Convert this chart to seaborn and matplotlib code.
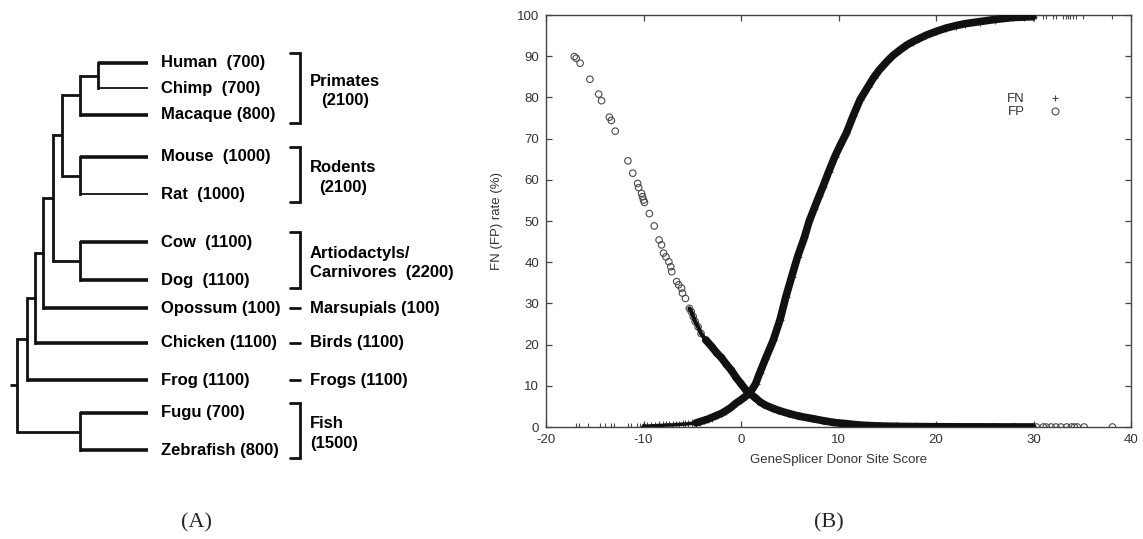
import numpy as np
import pandas as pd
import matplotlib
matplotlib.use("Agg")
import matplotlib.pyplot as plt
import seaborn as sns
from matplotlib.lines import Line2D

# ---------------- data : panel A (species tree) ----------------
species = ["Human", "Chimp", "Macaque", "Mouse", "Rat", "Cow", "Dog",
           "Opossum", "Chicken", "Frog", "Fugu", "Zebrafish"]
species_counts = [700, 700, 800, 1000, 1000, 1100, 1100, 100, 1100, 1100, 700, 800]
species_sep = ["  ", "  ", " ", "  ", "  ", "  ", "  ", " ", " ", " ", " ", " "]
group_labels = ["Primates\n(2100)", "Rodents\n(2100)", "Artiodactyls/\nCarnivores  (2200)",
                "Marsupials (100)", "Birds (1100)", "Frogs (1100)", "Fish\n(1500)"]
group_first = [0, 3, 5, 7, 8, 9, 10]
group_last = [2, 4, 6, 7, 8, 9, 11]
tree = ("root", [("tetrapoda", [("amniota", [("theria", [("eutheria", [
    ("euarch", [("primates", [("hc", ["Human", "Chimp"]), "Macaque"]),
                ("rodents", ["Mouse", "Rat"])]),
    ("laur", ["Cow", "Dog"])]), "Opossum"]), "Chicken"]), "Frog"]),
    ("fish", ["Fugu", "Zebrafish"])])

# ---------------- data : panel B (FN / FP rates) ----------------
fn_score = [-16.9, -16.6, -15.7, -14.5, -14.0, -13.3, -13.0, -11.6, -11.3, -10.7, -10.4, -10.1,
            -10.0, -9.6, -9.2, -8.8, -8.4, -8.0, -7.7, -7.4, -7.0, -6.7, -6.4, -6.0, -5.7, -5.4,
            -5.0, -4.6, -4.2, -3.8, -3.4, -3.0, -2.5, -2.0, -1.5, -1.0, -0.5, 0.0, 0.5, 0.9,
            1.5, 1.9, 2.5, 3.3, 4.0, 4.6, 5.2, 5.8, 6.5, 7.0, 7.5, 8.0, 8.4, 9.0, 9.6, 10.2,
            10.8, 11.5, 12.2, 13.0, 13.6, 14.2, 15.0, 15.6, 16.3, 17.0, 17.6, 18.3, 19.0, 20.0,
            21.0, 22.0, 23.0, 24.5, 26.0, 27.9, 29.0, 29.9,
            30.3, 31.0, 31.3, 32.0, 32.3, 33.0, 33.3, 33.5, 33.7, 34.0, 34.4, 35.1, 38.1]
fn_rate = [0, 0, 0, 0, 0, 0, 0, 0, 0, 0, 0, 0,
           0.3, 0.2, 0.3, 0.3, 0.4, 0.4, 0.5, 0.5, 0.5, 0.6, 0.6, 0.7, 0.7, 0.8,
           0.9, 1.0, 1.3, 1.6, 1.9, 2.3, 2.8, 3.3, 4.0, 4.8, 5.8, 6.6, 7.5, 8.2,
           10.5, 13.0, 16.5, 21.0, 26.0, 31.6, 36.5, 41.3, 46.0, 50.0, 53.0, 56.0, 58.3, 62.0, 65.5, 68.5,
           71.3, 75.5, 79.4, 82.5, 84.8, 86.7, 88.8, 90.2, 91.5, 92.7, 93.5, 94.3, 95.1, 96.0,
           96.8, 97.4, 97.9, 98.4, 98.9, 99.4, 99.5, 99.6,
           100, 100, 100, 100, 100, 100, 100, 100, 100, 100, 100, 100, 100]
fp_score = [-17.1, -16.9, -16.5, -15.5, -14.6, -14.3, -13.5, -13.3, -12.9, -11.6, -11.1, -10.6,
            -10.5, -10.2, -10.1, -10.0, -9.9, -9.4, -8.9, -8.4, -8.15, -7.95, -7.7, -7.4, -7.2,
            -7.1, -6.6, -6.4, -6.1, -6.0, -5.7, -5.3, -5.1, -4.9, -4.7, -4.4, -4.1,
            -3.6, -3.0, -2.5, -2.0, -1.5, -1.0, -0.5, 0.0, 0.5, 0.9, 1.5, 2.0, 2.5, 3.3, 4.0,
            5.0, 6.0, 7.4, 8.5, 9.5, 10.8, 12.0, 13.0, 14.2, 16.0, 18.0, 20.0, 22.0, 24.0, 26.0,
            28.0, 29.9,
            30.3, 31.0, 31.3, 31.8, 32.3, 32.8, 33.4, 33.9, 34.2, 34.5, 35.2, 38.1]
fp_rate = [89.9, 89.5, 88.3, 84.4, 80.8, 79.2, 75.2, 74.4, 71.8, 64.6, 61.6, 59.1,
           58.1, 56.7, 55.9, 55.1, 54.5, 51.8, 48.8, 45.4, 44.2, 42.2, 41.3, 40.1, 38.9,
           37.7, 35.3, 34.5, 33.7, 32.5, 31.2, 28.8, 28.0, 26.8, 25.6, 24.3, 22.7,
           21.1, 19.5, 18.0, 16.8, 15.2, 13.8, 12.0, 10.5, 9.0, 8.2, 7.0, 6.0, 5.3, 4.5, 3.9,
           3.2, 2.6, 2.0, 1.5, 1.1, 0.8, 0.5, 0.35, 0.24, 0.15, 0.1, 0.06, 0.04, 0.03, 0.02,
           0.01, 0.01,
           0, 0, 0, 0, 0, 0, 0, 0, 0, 0, 0, 0]
x_ticks = [-20, -10, 0, 10, 20, 30, 40]
y_ticks = [0, 10, 20, 30, 40, 50, 60, 70, 80, 90, 100]

# ---------------- layout / style (pixels of a 1143x539 canvas) ----------------
W, H = 1143, 539
leaf_y = dict(zip(species, [63, 88, 115, 157, 194, 242, 280, 308, 343, 380, 413, 450]))
node_x = {"root": 17, "tetrapoda": 27, "amniota": 35, "theria": 43, "eutheria": 53,
          "euarch": 62, "primates": 80, "hc": 98, "rodents": 80, "laur": 80, "fish": 80}
thin_leaves = {"Chimp", "Rat"}
tip_x, text_x, brk_x, glabel_x = 148, 161, 300, 310

sns.set_style("ticks")
plt.rcParams["font.family"] = ["Liberation Sans", "DejaVu Sans"]
plt.rcParams["axes.unicode_minus"] = False

fig = plt.figure(figsize=(W / 100, H / 100), dpi=100)
axT = fig.add_axes([0, 0, 1, 1])
axT.set_xlim(0, W)
axT.set_ylim(H, 0)
axT.axis("off")

TREE_C = "#111111"


def draw(node, parent_x):
    if isinstance(node, str):
        y = leaf_y[node]
        lw = 1.3 if node in thin_leaves else 2.6
        axT.plot([parent_x, tip_x], [y, y], color=TREE_C, lw=lw, solid_capstyle="butt")
        return y
    name, children = node
    x = node_x[name]
    ys = [draw(c, x) for c in children]
    y = float(np.mean(ys))
    axT.plot([x, x], [min(ys), max(ys)], color=TREE_C, lw=2.0, solid_capstyle="projecting")
    axT.plot([parent_x, x], [y, y], color=TREE_C, lw=2.0, solid_capstyle="butt")
    return y


draw(tree, 10)

for i, name in enumerate(species):
    axT.text(text_x, leaf_y[name], f"{name}{species_sep[i]}({species_counts[i]})",
             fontsize=12, fontweight="bold", ha="left", va="center", color="black")

for lab, a, b in zip(group_labels, group_first, group_last):
    ya, yb = leaf_y[species[a]], leaf_y[species[b]]
    if a == b:
        axT.plot([brk_x - 10, brk_x], [ya, ya], color=TREE_C, lw=2.0)
        yc = ya
    else:
        top, bot = ya - 10, yb + 8
        axT.plot([brk_x - 10, brk_x, brk_x, brk_x - 10], [top, top, bot, bot],
                 color=TREE_C, lw=2.0, solid_joinstyle="miter")
        yc = (top + bot) / 2 + 3
    malign = "center" if lab.startswith(("Primates", "Rodents")) else "left"
    axT.text(glabel_x, yc, lab, fontsize=12, fontweight="bold", ha="left", va="center",
             multialignment=malign, linespacing=1.4, color="black")

fig.text(196 / W, 1 - 523 / H, "(A)", fontsize=16, family="Liberation Serif",
         ha="center", va="center")
fig.text(829 / W, 1 - 523 / H, "(B)", fontsize=16, family="Liberation Serif",
         ha="center", va="center")

# ---------------- panel B ----------------
axB = fig.add_axes([546 / W, 1 - 427 / H, 585 / W, 412 / H])
fn = pd.DataFrame({"score": fn_score, "rate": fn_rate})
fp = pd.DataFrame({"score": fp_score, "rate": fp_rate})

MK = "#4a4a4a"
sns.scatterplot(data=fn, x="score", y="rate", marker="+", color=MK, s=28, linewidth=0.8,
                ax=axB, zorder=2, legend=False)
sns.scatterplot(data=fp, x="score", y="rate", marker="o", facecolor="none", edgecolor=MK,
                s=22, linewidth=0.8, ax=axB, zorder=2, legend=False)

band_c = "#111111"
fn_low = fn[(fn.score >= -10.0) & (fn.score <= -4.6)]
fn_high = fn[(fn.score >= -4.6) & (fn.score <= 29.9)]
fp_mid = fp[(fp.score >= -5.3) & (fp.score <= -3.6)]
fp_high = fp[(fp.score >= -3.6) & (fp.score <= 29.9)]
sns.lineplot(data=fn_low, x="score", y="rate", sort=False, estimator=None, color=band_c,
             lw=2.5, ax=axB, zorder=3)
sns.lineplot(data=fn_high, x="score", y="rate", sort=False, estimator=None, color=band_c,
             lw=5.5, ax=axB, zorder=3)
sns.lineplot(data=fp_mid, x="score", y="rate", sort=False, estimator=None, color=band_c,
             lw=3.0, ax=axB, zorder=3)
sns.lineplot(data=fp_high, x="score", y="rate", sort=False, estimator=None, color=band_c,
             lw=5.5, ax=axB, zorder=3)

axB.set_xlim(-20, 40)
axB.set_ylim(0, 100)
axB.set_xticks(x_ticks)
axB.set_yticks(y_ticks)
axB.set_xlabel("GeneSplicer Donor Site Score", fontsize=9.5, color="#333333", labelpad=6)
axB.set_ylabel("FN (FP) rate (%)", fontsize=9.5, color="#333333", labelpad=10)
axB.tick_params(direction="in", length=4, width=0.9, colors="#444444", labelcolor="#333333",
                labelsize=9.5, top=True, right=True, pad=5)
for s in axB.spines.values():
    s.set_visible(True)
    s.set_color("#444444")
    s.set_linewidth(1.0)

handles = [Line2D([], [], ls="", marker="+", color=MK, ms=5, mew=0.8),
           Line2D([], [], ls="", marker="o", mfc="none", mec=MK, ms=5, mew=0.8)]
axB.legend(handles, ["FN", "FP"], loc="upper right", bbox_to_anchor=(1068 / W, 1 - 93 / H),
           bbox_transform=fig.transFigure, markerfirst=False, frameon=False, fontsize=9.5,
           labelspacing=0.05, handlelength=2.0, handletextpad=1.3, borderpad=0,
           borderaxespad=0, labelcolor="#333333")

fig.savefig("out.png", dpi=100)
